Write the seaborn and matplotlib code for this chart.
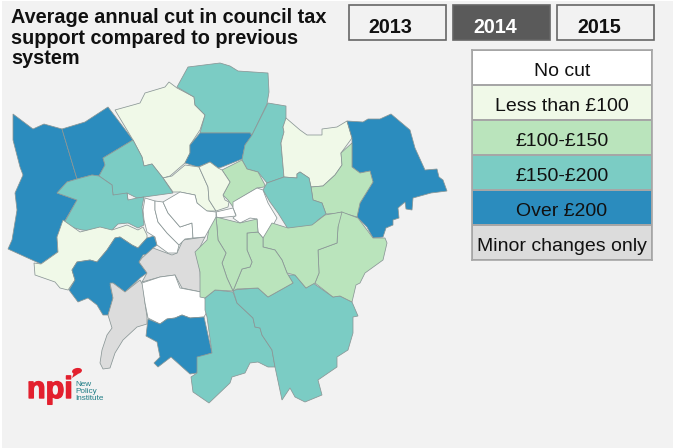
import numpy as np
import matplotlib
matplotlib.use("Agg")
import matplotlib.pyplot as plt
import matplotlib.patheffects as pe
from matplotlib.colors import ListedColormap
from matplotlib.patches import Ellipse, Polygon, Rectangle
import seaborn as sns

# legend bands, lightest to darkest, then the grey one
band_labels = ["No cut", "Less than £100", "£100-£150", "£150-£200", "Over £200", "Minor changes only"]
band_colors = ["#ffffff", "#f0f9e8", "#bae4bc", "#7bccc4", "#2b8cbe", "#dcdcdc"]
years = ["2013", "2014", "2015"]
selected_year = "2014"
title_lines = ["Average annual cut in council tax", "support compared to previous", "system"]

# band index for each borough
boroughs = ["Hillingdon", "Harrow", "Barnet", "Enfield", "Haringey", "Waltham Forest", "Redbridge", "Havering",
            "Barking", "Newham", "Hackney", "Tower Hamlets", "City", "Camden", "Islington", "Brent", "Ealing",
            "Hounslow", "Richmond", "Kingston", "Wandsworth", "Merton", "Sutton", "Croydon", "Bromley", "Bexley",
            "Greenwich", "Lewisham", "Southwark", "Lambeth", "Hammersmith", "Kensington", "Westminster"]
borough_bands = [4, 4, 1, 3, 4, 3, 1, 4,
                 2, 3, 2, 0, 0, 1, 1, 3, 3,
                 1, 4, 5, 5, 0, 4, 3, 3, 2,
                 2, 2, 2, 2, 0, 0, 0]

# outlines, in image pixels
outlines = [
    [(13,114),(33,129),(44,124),(62,129),(77,179),(67,182),(57,193),(77,200),(63,224),(57,237),(58,252),(41,264),(8,249),(12,240),(17,210),(15,193),(23,175),(20,167),(13,140)],
    [(62,129),(85,122),(108,107),(133,140),(103,158),(105,165),(99,176),(92,175),(77,179)],
    [(115,110),(133,105),(140,103),(145,93),(165,87),(169,82),(177,88),(194,97),(195,105),(205,115),(200,130),(190,145),(190,153),(185,163),(170,176),(163,178),(152,164),(144,166),(142,157),(133,140)],
    [(177,87),(188,67),(220,63),(230,66),(238,71),(268,73),(269,92),(267,104),(252,135),(250,133),(200,133),(205,115),(195,105),(194,97)],
    [(200,133),(250,133),(252,136),(245,145),(242,159),(222,167),(218,168),(210,162),(198,167),(185,163),(190,153),(190,145)],
    [(268,103),(286,106),(286,120),(283,127),(284,132),(281,143),(284,177),(267,183),(258,172),(247,169),(242,160),(245,145),(252,135)],
    [(286,118),(300,130),(307,135),(322,135),(322,129),(337,127),(347,121),(352,138),(341,153),(342,165),(335,175),(323,186),(311,187),(309,178),(300,172),(297,174),(297,178),(284,177),(281,143),(284,132),(283,127)],
    [(347,121),(363,122),(368,119),(380,119),(391,114),(410,130),(415,148),(425,170),(437,169),(439,177),(443,180),(447,191),(431,193),(413,198),(412,210),(406,209),(405,202),(398,208),(399,218),(393,220),(393,225),(386,228),(383,237),(373,238),(367,227),(357,217),(360,203),(373,182),(370,171),(360,173),(352,167),(352,138)],
    [(352,143),(341,153),(342,165),(335,175),(323,186),(311,187),(313,200),(322,203),(326,214),(343,213),(357,217),(360,203),(373,182),(370,171),(360,173),(352,167)],
    [(263,190),(267,183),(284,177),(297,178),(297,174),(300,172),(309,178),(311,187),(313,200),(322,203),(326,214),(318,220),(312,227),(288,229),(278,213),(270,202)],
    [(222,170),(242,160),(247,169),(258,172),(265,185),(264,187),(257,188),(237,200),(233,207),(228,200),(223,195),(230,182)],
    [(233,202),(257,188),(263,190),(268,203),(277,218),(272,227),(272,236),(263,238),(258,232),(257,219),(250,218),(240,223),(233,218),(236,215),(233,208)],
    [(216,212),(233,208),(236,216),(217,218)],
    [(163,178),(172,176),(185,165),(199,167),(208,187),(209,200),(216,211),(206,211),(197,203),(195,195),(180,192),(173,192)],
    [(199,167),(210,162),(218,168),(222,170),(230,182),(223,195),(225,200),(229,202),(228,207),(216,211),(209,200),(208,187)],
    [(133,140),(142,157),(144,166),(152,164),(163,178),(173,193),(137,198),(127,193),(128,200),(113,195),(112,185),(99,176),(105,165),(103,158)],
    [(57,193),(67,182),(77,179),(92,175),(99,176),(112,185),(113,195),(127,193),(128,200),(137,198),(144,197),(142,207),(144,225),(138,228),(128,223),(118,224),(110,232),(82,230),(63,225),(77,200)],
    [(63,220),(80,232),(100,227),(112,230),(127,225),(138,230),(143,227),(147,235),(147,238),(138,248),(132,245),(120,237),(115,238),(107,250),(97,262),(90,260),(77,262),(72,270),(75,280),(68,290),(60,288),(55,282),(35,275),(34,263),(41,264),(58,252),(57,237)],
    [(115,238),(120,237),(132,245),(138,248),(147,238),(154,236),(157,245),(153,248),(152,253),(143,255),(139,262),(147,273),(140,278),(125,292),(113,283),(110,285),(113,298),(108,315),(103,315),(97,305),(88,298),(78,302),(69,290),(75,280),(72,270),(77,262),(90,260),(97,262),(107,250)],
    [(110,283),(113,283),(125,292),(140,280),(143,285),(145,303),(147,317),(147,324),(137,327),(123,340),(115,353),(110,368),(103,369),(100,363),(102,350),(107,335),(112,328),(108,315),(113,298)],
    [(139,262),(142,258),(153,248),(172,255),(177,253),(183,240),(205,237),(197,253),(200,270),(201,292),(182,288),(175,275),(160,277),(142,282),(147,273)],
    [(142,283),(160,277),(175,275),(180,288),(201,292),(205,298),(208,310),(204,317),(190,318),(182,315),(175,318),(167,319),(160,324),(148,318),(145,303)],
    [(148,319),(160,324),(167,319),(175,318),(182,315),(190,318),(204,317),(212,353),(200,357),(197,373),(190,374),(171,357),(158,367),(154,363),(160,357),(157,342),(146,336)],
    [(205,298),(215,290),(233,292),(237,303),(253,318),(255,327),(260,328),(262,335),(272,350),(275,367),(268,367),(258,362),(250,363),(245,373),(232,377),(230,383),(209,403),(193,392),(191,377),(197,373),(197,357),(212,353),(207,317),(205,310)],
    [(233,290),(258,288),(268,297),(293,283),(288,275),(295,275),(306,288),(313,283),(333,297),(340,296),(352,302),(358,316),(353,317),(353,333),(348,350),(337,357),(337,367),(318,380),(322,395),(305,402),(295,397),(290,388),(282,400),(275,367),(272,350),(262,335),(260,328),(255,327),(253,318),(237,303)],
    [(342,212),(358,218),(373,238),(385,238),(387,243),(383,260),(365,273),(360,283),(356,285),(352,302),(340,296),(333,297),(315,283),(319,273),(318,250),(337,243),(338,227),(337,213)],
    [(263,238),(272,223),(288,228),(312,225),(325,215),(342,212),(338,227),(337,243),(318,250),(319,273),(315,283),(306,288),(295,275),(287,273),(282,260),(275,250),(263,247)],
    [(247,233),(258,232),(263,238),(263,247),(275,250),(282,260),(287,273),(293,283),(268,297),(258,288),(237,289),(233,291),(242,269),(250,267),(252,262),(247,250)],
    [(216,217),(240,223),(257,219),(258,232),(247,233),(247,250),(252,262),(250,267),(242,269),(233,291),(227,278),(222,263),(226,253),(218,240),(217,227)],
    [(216,217),(217,227),(218,240),(226,253),(222,263),(227,278),(233,291),(215,290),(205,298),(200,297),(200,272),(195,252),(207,240),(210,223),(212,218)],
    [(145,198),(155,201),(155,210),(158,222),(167,233),(179,245),(177,253),(168,253),(157,245),(155,237),(147,232),(144,220),(143,210)],
    [(155,201),(163,202),(168,213),(180,227),(192,223),(193,238),(185,239),(179,245),(167,233),(158,222),(155,210)],
    [(163,202),(180,192),(195,195),(197,203),(207,211),(216,212),(216,217),(205,237),(193,238),(192,223),(180,227),(168,213)],
]

W, H = 676, 448
sns.set_theme(style="white")
plt.rcParams["font.family"] = ["Liberation Sans", "DejaVu Sans"]

fig = plt.figure(figsize=(W / 100, H / 100), dpi=100, facecolor="white")
ax = fig.add_axes([2 / W, 0, 671 / W, (H - 1) / H], facecolor="#f2f2f2")
ax.set_xlim(2, 673)
ax.set_ylim(H, 1)
ax.set_xticks([])
ax.set_yticks([])
sns.despine(ax=ax, left=True, bottom=True)

# the boroughs
for outline, band in zip(outlines, borough_bands):
    ax.add_patch(Polygon(outline, closed=True, facecolor=band_colors[band], edgecolor="#8a9696", linewidth=0.55))

# title
for line, y in zip(title_lines, [23, 43.5, 63.5]):
    ax.text(11, y, line, fontsize=14.3, fontweight="bold", color="#111111", va="baseline", ha="left")

# year buttons
for year, x0, tx in zip(years, [349, 452.5, 556.5], [390.5, 495, 599]):
    on = year == selected_year
    ax.add_patch(Rectangle((x0, 5), 97, 35, facecolor="#5a5a5a" if on else "#f2f2f2", edgecolor="#666666", linewidth=1.2))
    ax.text(tx, 33, year, fontsize=14.2, fontweight="bold", color="white" if on else "#111111", ha="center", va="baseline")

# npi logo
ax.text(27, 398, "npi", fontsize=22, fontweight="bold", color="#e3202e", va="baseline", ha="left",
        path_effects=[pe.withStroke(linewidth=1, foreground="#e3202e")])
ax.add_patch(Ellipse((77, 371), 10, 6, angle=-10, facecolor="#e3202e", edgecolor="none"))
ax.add_patch(Polygon([(74, 372), (78, 374), (72, 378)], closed=True, facecolor="#e3202e", edgecolor="none"))
for line, y in zip(["New", "Policy", "Institute"], [386, 393, 400]):
    ax.text(75.5, y, line, fontsize=5.9, color="#1f7d86", va="baseline", ha="left")

# legend is a one column heatmap
leg = fig.add_axes([472 / W, 1 - 260 / H, 180 / W, 210 / H])
codes = np.arange(len(band_labels)).reshape(-1, 1)
annot = np.array(band_labels).reshape(-1, 1)
sns.heatmap(codes, ax=leg, cmap=ListedColormap(band_colors), cbar=False, annot=annot, fmt="",
            annot_kws={"fontsize": 14, "color": "#111111"}, linewidths=1.2, linecolor="#a6a6a6",
            xticklabels=False, yticklabels=False)
for t in leg.texts:
    x, y = t.get_position()
    t.set_position((x, y + 0.11))
for s in leg.spines.values():
    s.set_visible(True)
    s.set_color("#a6a6a6")
    s.set_linewidth(1.2)

fig.savefig("out.png", dpi=100, facecolor=fig.get_facecolor())
